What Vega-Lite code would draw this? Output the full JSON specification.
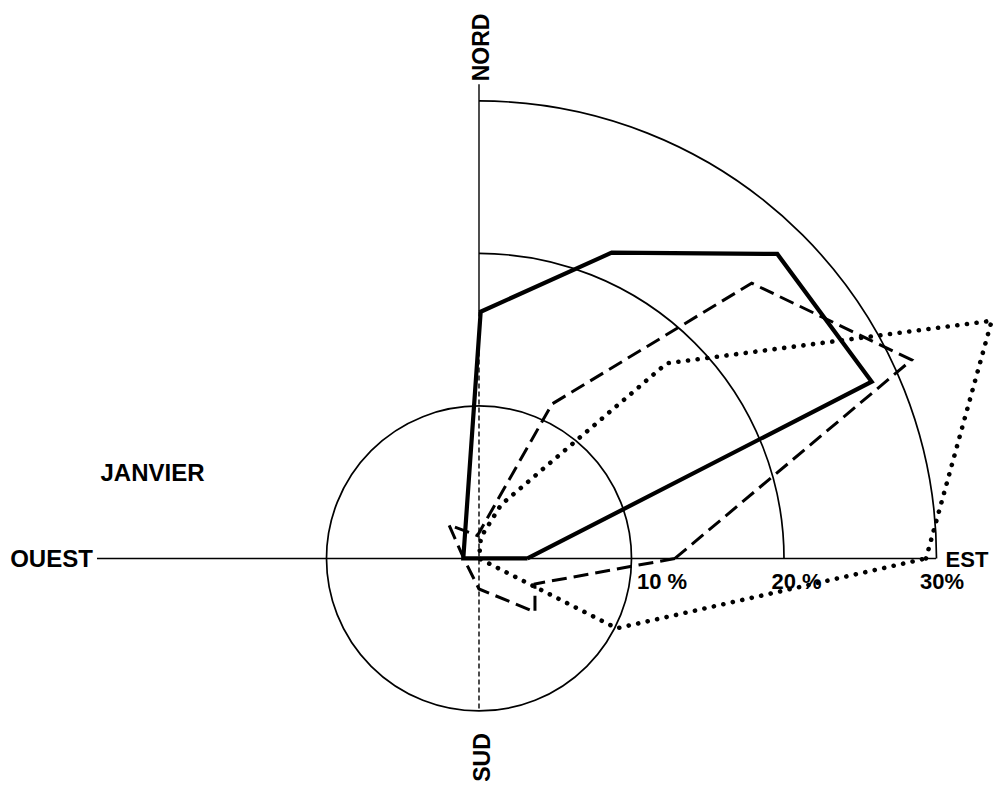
{
  "$schema": "https://vega.github.io/schema/vega-lite/v6.json",
  "width": 1001,
  "height": 786,
  "padding": 0,
  "autosize": "none",
  "background": "white",
  "config": {"view": {"stroke": null}},
  "datasets": {
    "polys": [
      {"series": "solid", "i": 0, "dir": "E", "e": 3.18, "n": 0},
      {"series": "solid", "i": 1, "dir": "ENE", "e": 25.75, "n": 11.59},
      {"series": "solid", "i": 2, "dir": "NE", "e": 19.56, "n": 19.97},
      {"series": "solid", "i": 3, "dir": "NNE", "e": 8.7, "n": 20.05},
      {"series": "solid", "i": 4, "dir": "N", "e": 0.11, "n": 16.18},
      {"series": "solid", "i": 5, "dir": "W", "e": -1.03, "n": 0},
      {"series": "solid", "i": 6, "dir": "E", "e": 3.18, "n": 0},
      {"series": "dashed", "i": 0, "dir": "E", "e": 12.85, "n": 0},
      {"series": "dashed", "i": 1, "dir": "ENE", "e": 28.37, "n": 13.02},
      {"series": "dashed", "i": 2, "dir": "NE", "e": 17.88, "n": 18.05},
      {"series": "dashed", "i": 3, "dir": "NNE", "e": 4.79, "n": 10.13},
      {"series": "dashed", "i": 4, "dir": "N", "e": -0.1, "n": 1.5},
      {"series": "dashed", "i": 5, "dir": "NW", "e": -1.97, "n": 2.2},
      {"series": "dashed", "i": 6, "dir": "W", "e": -1.0, "n": 0},
      {"series": "dashed", "i": 7, "dir": "S", "e": 0, "n": -2.0},
      {"series": "dashed", "i": 8, "dir": "SE", "e": 3.67, "n": -3.51},
      {"series": "dashed", "i": 9, "dir": "ESE", "e": 3.67, "n": -1.67},
      {"series": "dashed", "i": 10, "dir": "E", "e": 12.85, "n": 0},
      {"series": "dotted", "i": 0, "dir": "E", "e": 29.31, "n": 0},
      {"series": "dotted", "i": 1, "dir": "ENE", "e": 33.62, "n": 15.59},
      {"series": "dotted", "i": 2, "dir": "NE", "e": 12.31, "n": 12.8},
      {"series": "dotted", "i": 3, "dir": "NNE", "e": 1.44, "n": 3.51},
      {"series": "dotted", "i": 4, "dir": "N", "e": 0.13, "n": 1.41},
      {"series": "dotted", "i": 5, "dir": "C", "e": 0, "n": 0},
      {"series": "dotted", "i": 6, "dir": "ESE", "e": 9.03, "n": -4.58},
      {"series": "dotted", "i": 7, "dir": "E", "e": 29.31, "n": 0}
    ],
    "circles": [
      {"pct": 10, "e": 0, "n": 0, "t0": 0, "t1": 360},
      {"pct": 20, "e": 0, "n": 0, "t0": 0, "t1": 90},
      {"pct": 30, "e": 0, "n": 0, "t0": 0, "t1": 90}
    ],
    "axesSolid": [
      {"e": -25.05, "n": 0, "e2": 29.97, "n2": 0},
      {"e": 0, "n": 31.1, "e2": 0, "n2": 16.2}
    ],
    "axesDashed": [
      {"e": 0, "n": 16.2, "e2": 0, "n2": -10.0}
    ],
    "labelsH": [
      {"label": "EST", "e": 32.0, "n": -0.13},
      {"label": "30%", "e": 30.36, "n": -1.57},
      {"label": "10 %", "e": 12.0, "n": -1.57},
      {"label": "20 %", "e": 20.82, "n": -1.54}
    ],
    "labelsBig": [
      {"label": "OUEST", "e": -28.03, "n": -0.1},
      {"label": "JANVIER", "e": -21.41, "n": 5.54}
    ],
    "labelsV": [
      {"label": "NORD", "e": 0.2, "n": 33.51},
      {"label": "SUD", "e": 0.23, "n": -13.05}
    ]
  },
  "encoding": {
    "x": {"field": "e", "type": "quantitative", "scale": {"domain": [-31.41, 34.23], "nice": false, "zero": false}, "axis": null},
    "y": {"field": "n", "type": "quantitative", "scale": {"domain": [-14.92, 36.62], "nice": false, "zero": false}, "axis": null}
  },
  "layer": [
    {
      "data": {"name": "axesSolid"},
      "mark": {"type": "rule", "color": "black", "strokeWidth": 1.4},
      "encoding": {"x2": {"field": "e2"}, "y2": {"field": "n2"}}
    },
    {
      "data": {"name": "axesDashed"},
      "mark": {"type": "rule", "color": "black", "strokeWidth": 1.4, "strokeDash": [5, 3]},
      "encoding": {"x2": {"field": "e2"}, "y2": {"field": "n2"}}
    },
    {
      "data": {"name": "circles"},
      "mark": {"type": "arc", "fill": "transparent", "stroke": "black", "strokeWidth": 1.7},
      "encoding": {
        "theta": {"field": "t0", "type": "quantitative", "stack": null, "scale": {"domain": [0, 360], "range": [0, 6.283185307]}},
        "theta2": {"field": "t1"},
        "radius": {"field": "pct", "type": "quantitative", "scale": {"type": "linear", "domain": [0, 30], "range": [0, 457.5], "zero": true, "nice": false}},
        "radius2": {"field": "pct"}
      }
    },
    {
      "data": {"name": "polys"},
      "transform": [{"filter": "datum.series == 'solid'"}],
      "mark": {"type": "line", "color": "black", "strokeWidth": 4.2, "strokeJoin": "miter"},
      "encoding": {"order": {"field": "i", "type": "quantitative"}}
    },
    {
      "data": {"name": "polys"},
      "transform": [{"filter": "datum.series == 'dashed'"}],
      "mark": {"type": "line", "color": "black", "strokeWidth": 3, "strokeDash": [15, 7]},
      "encoding": {"order": {"field": "i", "type": "quantitative"}}
    },
    {
      "data": {"name": "polys"},
      "transform": [{"filter": "datum.series == 'dotted'"}],
      "mark": {"type": "line", "color": "black", "strokeWidth": 4.6, "strokeCap": "round", "strokeDash": [0.1, 9.6]},
      "encoding": {"order": {"field": "i", "type": "quantitative"}}
    },
    {
      "data": {"name": "labelsH"},
      "mark": {"type": "text", "font": "Liberation Sans", "fontWeight": "bold", "fontSize": 22, "align": "center", "baseline": "middle", "color": "black"},
      "encoding": {"text": {"field": "label"}}
    },
    {
      "data": {"name": "labelsBig"},
      "mark": {"type": "text", "font": "Liberation Sans", "fontWeight": "bold", "fontSize": 24, "align": "center", "baseline": "middle", "color": "black"},
      "encoding": {"text": {"field": "label"}}
    },
    {
      "data": {"name": "labelsV"},
      "mark": {"type": "text", "font": "Liberation Sans", "fontWeight": "bold", "fontSize": 23, "align": "center", "baseline": "middle", "angle": 270, "color": "black"},
      "encoding": {"text": {"field": "label"}}
    }
  ]
}
